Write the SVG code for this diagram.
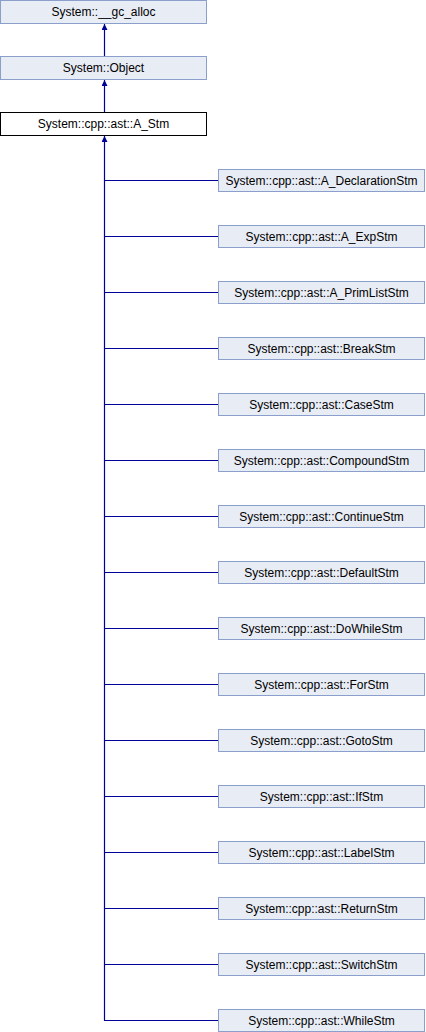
<svg xmlns="http://www.w3.org/2000/svg" width="426" height="1032" viewBox="0 0 426 1032">
<defs>
<style>
.box{fill:#E8ECF5;stroke:#8A9FCB;stroke-width:1}
.cur{fill:#FFFFFF;stroke:#000000;stroke-width:1}
.lbl{font-family:"Liberation Sans",Arial,sans-serif;font-size:12px;fill:#000000;text-anchor:middle}
.edge{fill:none;stroke:#000099;stroke-width:1.2}
</style>
<marker id="arr" viewBox="0 0 10 10" refX="10" refY="5" markerWidth="7" markerHeight="6" orient="auto" markerUnits="userSpaceOnUse">
<path d="M0,0 L10,5 L0,10 z" fill="#000099"/>
</marker>
</defs>
<rect width="426" height="1032" fill="#FFFFFF"/>
<g id="connectors">
<line class="edge" x1="104.5" y1="56" x2="104.5" y2="24" marker-end="url(#arr)"/>
<line class="edge" x1="104.5" y1="112" x2="104.5" y2="80" marker-end="url(#arr)"/>
<line class="edge" x1="104.5" y1="1020.5" x2="104.5" y2="136" marker-end="url(#arr)"/>
<path class="edge" d="M104,180.5H218 M104,236.5H218 M104,292.5H218 M104,348.5H218 M104,404.5H218 M104,460.5H218 M104,516.5H218 M104,572.5H218 M104,628.5H218 M104,684.5H218 M104,740.5H218 M104,796.5H218 M104,852.5H218 M104,908.5H218 M104,964.5H218 M104,1020.5H218"/>
</g>
<g id="gc_alloc"><rect class="box" x="0.5" y="0.5" width="206" height="23"/><text class="lbl" x="103.5" y="16">System::__gc_alloc</text></g>
<g id="Object"><rect class="box" x="0.5" y="56.5" width="206" height="23"/><text class="lbl" x="103.5" y="72">System::Object</text></g>
<g id="A_Stm"><rect class="cur" x="0.5" y="112.5" width="206" height="23"/><text class="lbl" x="103.5" y="128">System::cpp::ast::A_Stm</text></g>
<g id="A_DeclarationStm"><rect class="box" x="218.5" y="169.5" width="206" height="22"/><text class="lbl" x="321.5" y="184.5">System::cpp::ast::A_DeclarationStm</text></g>
<g id="A_ExpStm"><rect class="box" x="218.5" y="225.5" width="206" height="22"/><text class="lbl" x="321.5" y="240.5">System::cpp::ast::A_ExpStm</text></g>
<g id="A_PrimListStm"><rect class="box" x="218.5" y="281.5" width="206" height="22"/><text class="lbl" x="321.5" y="296.5">System::cpp::ast::A_PrimListStm</text></g>
<g id="BreakStm"><rect class="box" x="218.5" y="337.5" width="206" height="22"/><text class="lbl" x="321.5" y="352.5">System::cpp::ast::BreakStm</text></g>
<g id="CaseStm"><rect class="box" x="218.5" y="393.5" width="206" height="22"/><text class="lbl" x="321.5" y="408.5">System::cpp::ast::CaseStm</text></g>
<g id="CompoundStm"><rect class="box" x="218.5" y="449.5" width="206" height="22"/><text class="lbl" x="321.5" y="464.5">System::cpp::ast::CompoundStm</text></g>
<g id="ContinueStm"><rect class="box" x="218.5" y="505.5" width="206" height="22"/><text class="lbl" x="321.5" y="520.5">System::cpp::ast::ContinueStm</text></g>
<g id="DefaultStm"><rect class="box" x="218.5" y="561.5" width="206" height="22"/><text class="lbl" x="321.5" y="576.5">System::cpp::ast::DefaultStm</text></g>
<g id="DoWhileStm"><rect class="box" x="218.5" y="617.5" width="206" height="22"/><text class="lbl" x="321.5" y="632.5">System::cpp::ast::DoWhileStm</text></g>
<g id="ForStm"><rect class="box" x="218.5" y="673.5" width="206" height="22"/><text class="lbl" x="321.5" y="688.5">System::cpp::ast::ForStm</text></g>
<g id="GotoStm"><rect class="box" x="218.5" y="729.5" width="206" height="22"/><text class="lbl" x="321.5" y="744.5">System::cpp::ast::GotoStm</text></g>
<g id="IfStm"><rect class="box" x="218.5" y="785.5" width="206" height="22"/><text class="lbl" x="321.5" y="800.5">System::cpp::ast::IfStm</text></g>
<g id="LabelStm"><rect class="box" x="218.5" y="841.5" width="206" height="22"/><text class="lbl" x="321.5" y="856.5">System::cpp::ast::LabelStm</text></g>
<g id="ReturnStm"><rect class="box" x="218.5" y="897.5" width="206" height="22"/><text class="lbl" x="321.5" y="912.5">System::cpp::ast::ReturnStm</text></g>
<g id="SwitchStm"><rect class="box" x="218.5" y="953.5" width="206" height="22"/><text class="lbl" x="321.5" y="968.5">System::cpp::ast::SwitchStm</text></g>
<g id="WhileStm"><rect class="box" x="218.5" y="1009.5" width="206" height="22"/><text class="lbl" x="321.5" y="1024.5">System::cpp::ast::WhileStm</text></g>
</svg>
